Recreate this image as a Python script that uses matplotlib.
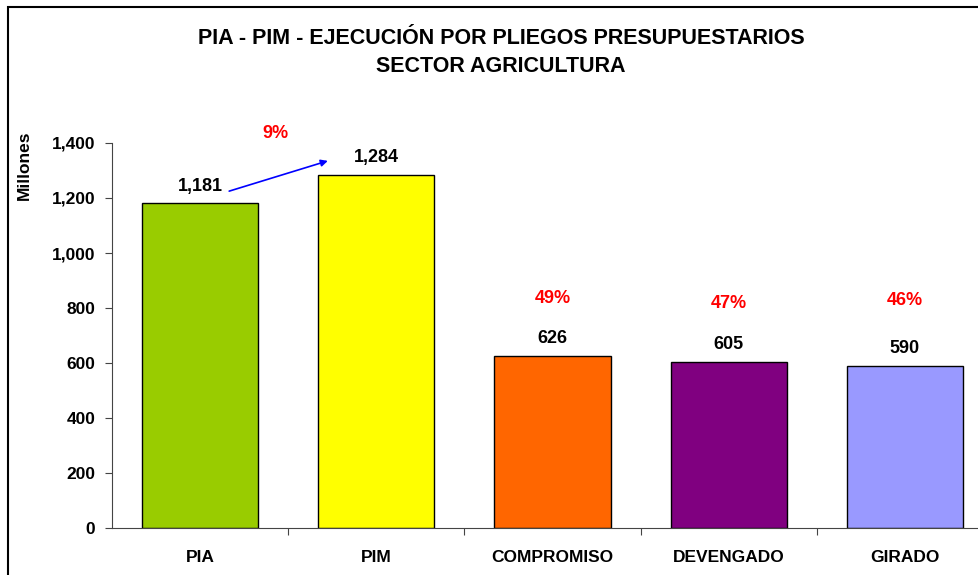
import matplotlib
matplotlib.use("Agg")
import matplotlib.pyplot as plt
from matplotlib.patches import Rectangle

categories = ["PIA", "PIM", "COMPROMISO", "DEVENGADO", "GIRADO"]
values = [1181, 1284, 626, 605, 590]
value_labels = ["1,181", "1,284", "626", "605", "590"]
colors = ["#99CC00", "#FFFF00", "#FF6600", "#800080", "#9999FF"]
pct_labels = ["49%", "47%", "46%"]
pct_y = [836, 818, 829]
arrow_pct = "9%"
yticks = [0, 200, 400, 600, 800, 1000, 1200, 1400]
ytick_labels = ["0", "200", "400", "600", "800", "1,000", "1,200", "1,400"]

plt.rcParams['font.family'] = ['Liberation Sans', 'DejaVu Sans']

fig = plt.figure(figsize=(9.79, 5.75), dpi=100)
fig.patches.append(Rectangle((8/979, -0.1), 1.2, 1 - 7/575 + 0.1, transform=fig.transFigure,
                             fill=False, edgecolor="black", linewidth=1.5, zorder=0))

ax = fig.add_axes([112/979, 47/575, 881/979, 385/575])
x = list(range(len(categories)))
ax.bar(x, values, width=0.66, color=colors, edgecolor="black", linewidth=1)
ax.set_xlim(-0.5, 4.5)
ax.set_ylim(0, 1400)
ax.set_yticks(yticks)
ax.set_yticklabels(ytick_labels, fontsize=12.5, fontweight="bold")
ax.set_xticks([i + 0.5 for i in x[:-1]], minor=False)
ax.set_xticklabels([])
ax.set_xticks(x, minor=True)
ax.set_xticklabels(categories, minor=True, fontsize=12.5, fontweight="bold")
ax.tick_params(axis="x", which="minor", length=0, pad=15.5)
ax.tick_params(axis="x", which="major", length=5, direction="out", color="#444444")
ax.tick_params(axis="y", length=5, color="#444444", pad=7)
ax.spines["top"].set_visible(False)
ax.spines["right"].set_visible(False)
ax.spines["left"].set_color("#444444")
ax.spines["bottom"].set_color("#444444")

fig.text(24/979, 1 - 165/575, "Millones", rotation=90, ha="center", va="center",
         fontsize=12.5, fontweight="bold")

for i, (v, lab) in enumerate(zip(values, value_labels)):
    ax.text(i, v + 62, lab, ha="center", va="center", fontsize=13, fontweight="bold")

for i, (p, py) in enumerate(zip(pct_labels, pct_y)):
    ax.text(i + 2, py, p, ha="center", va="center", fontsize=13, fontweight="bold", color="red")

ax.annotate("", xy=(0.74, 1338), xytext=(0.15, 1222),
            arrowprops=dict(arrowstyle="-|>", color="blue", lw=1.2, mutation_scale=10))
ax.text(0.43, 1436, arrow_pct, ha="center", va="center", fontsize=13, fontweight="bold",
        color="red", clip_on=False)

fig.text(501/979, 1 - 39/575, "PIA - PIM - EJECUCIÓN POR PLIEGOS PRESUPUESTARIOS",
         ha="center", va="center", fontsize=15.5, fontweight="bold")
fig.text(501/979, 1 - 66/575, "SECTOR AGRICULTURA",
         ha="center", va="center", fontsize=15.5, fontweight="bold")

fig.savefig("out.png", dpi=100)
